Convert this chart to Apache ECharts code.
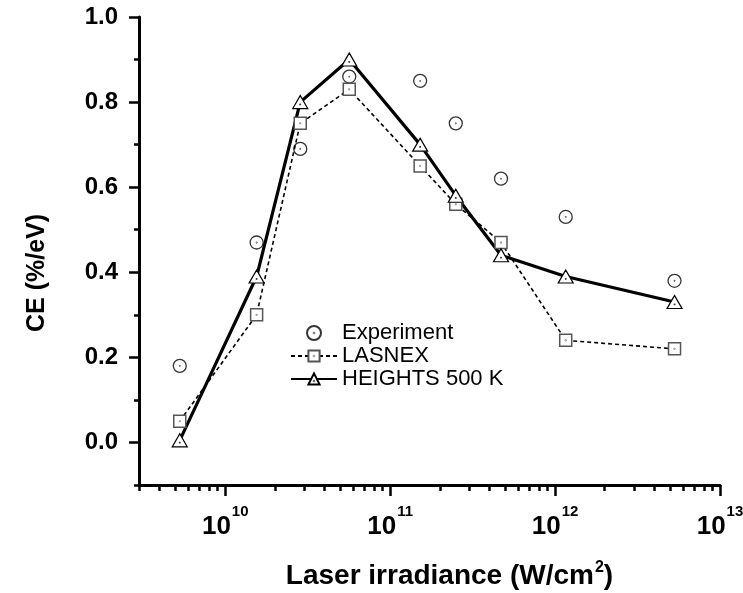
<!DOCTYPE html>
<html>
<head>
<meta charset="utf-8">
<script src="https://cdn.jsdelivr.net/npm/echarts@6/dist/echarts.min.js"></script>
<style>
  html, body { margin: 0; padding: 0; background: #fff; }
  #chart { width: 743px; height: 593px; }
</style>
</head>
<body>
<div id="chart"></div>
<script>
// Laser irradiance (W/cm^2) of each shot
const irradiance = [5.3e9, 1.55e10, 2.85e10, 5.65e10, 1.52e11, 2.5e11, 4.7e11, 1.16e12, 5.3e12];
// Conversion efficiency (%/eV)
const experiment = [0.18, 0.47, 0.69, 0.86, 0.85, 0.75, 0.62, 0.53, 0.38];
const lasnex     = [0.05, 0.30, 0.75, 0.83, 0.65, 0.56, 0.47, 0.24, 0.22];
const heights    = [0.005, 0.39, 0.80, 0.90, 0.70, 0.58, 0.44, 0.39, 0.33];

// Axis ticks
const xMajorTicks = [1e10, 1e11, 1e12, 1e13];
const xMinorTicks = [3e9, 4e9, 5e9, 6e9, 7e9, 8e9, 9e9,
                     2e10, 3e10, 4e10, 5e10, 6e10, 7e10, 8e10, 9e10,
                     2e11, 3e11, 4e11, 5e11, 6e11, 7e11, 8e11, 9e11,
                     2e12, 3e12, 4e12, 5e12, 6e12, 7e12, 8e12, 9e12];
const yMajorTicks = [0, 0.2, 0.4, 0.6, 0.8, 1.0];
const yMinorTicks = [-0.1, 0.1, 0.3, 0.5, 0.7, 0.9];

const FONT = 'Liberation Sans';
const X_MIN = 3e9, X_MAX = 1e13, Y_MIN = -0.1, Y_MAX = 1.0;

// Open markers with a small centre dot
const circleDot = 'path://M10,0A10,10 0 1,1 9.99,0Z M10,9.6A0.4,0.4 0 1,1 9.99,9.6Z';
const squareDot = 'path://M0,0H20V20H0Z M10,9.6A0.4,0.4 0 1,1 9.99,9.6Z';
const triangleDot = 'path://M10,0L20,17H0Z M10,11.1A0.4,0.4 0 1,1 9.99,11.1Z';

const pairs = (ys) => irradiance.map((x, i) => [x, ys[i]]);

const gridBox = { left: 139, right: 23, top: 17, bottom: 108, outerBoundsMode: 'none', containLabel: false };

const chart = echarts.init(document.getElementById('chart'), null, { renderer: 'canvas' });

chart.setOption({
  animation: false,
  backgroundColor: '#fff',
  grid: [
    Object.assign({}, gridBox),
    Object.assign({}, gridBox)
  ],
  legend: {
    orient: 'vertical',
    left: 290,
    top: 322,
    padding: 0,
    itemWidth: 46,
    itemHeight: 14,
    itemGap: 1,
    selectedMode: false,
    textStyle: { fontFamily: FONT, fontSize: 22, lineHeight: 22, color: '#000' },
    data: ['Experiment', 'LASNEX', 'HEIGHTS 500 K']
  },
  xAxis: [
    {
      type: 'log', gridIndex: 0, min: X_MIN, max: X_MAX, logBase: 10,
      name: '{t|Laser irradiance (W/cm}{s|2}{t|)}',
      nameLocation: 'middle', nameGap: 75,
      nameTextStyle: {
        padding: [0, 0, 0, 40],
        rich: {
          t: { fontFamily: FONT, fontWeight: 'bold', fontSize: 28, color: '#000', lineHeight: 32 },
          s: { fontFamily: FONT, fontWeight: 'bold', fontSize: 16, color: '#000', lineHeight: 18, padding: [0, 0, 16, 1] }
        }
      },
      axisLine: { show: true, onZero: false, lineStyle: { color: '#000', width: 3 } },
      axisTick: { show: true, inside: false, length: 11, lineStyle: { color: '#000', width: 2.5 }, customValues: xMajorTicks },
      axisLabel: {
        show: true, margin: 29, customValues: xMajorTicks,
        formatter: (v) => '{b|10}{s|' + Math.round(Math.log10(v)) + '}',
        rich: {
          b: { fontFamily: FONT, fontWeight: 'bold', fontSize: 26, color: '#000', lineHeight: 26 },
          s: { fontFamily: FONT, fontWeight: 'bold', fontSize: 15, color: '#000', lineHeight: 16, padding: [0, 0, 30, 1] }
        }
      },
      splitLine: { show: false }
    },
    {
      type: 'log', gridIndex: 1, min: X_MIN, max: X_MAX, logBase: 10,
      axisLine: { show: false, onZero: false },
      axisTick: { show: true, inside: false, length: 6, lineStyle: { color: '#000', width: 2.5 }, customValues: xMinorTicks },
      axisLabel: { show: false },
      splitLine: { show: false }
    }
  ],
  yAxis: [
    {
      type: 'value', gridIndex: 0, min: Y_MIN, max: Y_MAX, interval: 0.1,
      name: 'CE (%/eV)',
      nameLocation: 'middle', nameGap: 89, nameRotate: 90,
      nameTextStyle: { fontFamily: FONT, fontWeight: 'bold', fontSize: 25, color: '#000', padding: [0, 44, 0, 0] },
      axisLine: { show: true, onZero: false, lineStyle: { color: '#000', width: 3 } },
      axisTick: { show: true, inside: false, length: 10, lineStyle: { color: '#000', width: 2.5 }, customValues: yMajorTicks },
      axisLabel: {
        show: true, margin: 21, customValues: yMajorTicks,
        formatter: (v) => v.toFixed(1),
        fontFamily: FONT, fontWeight: 'bold', fontSize: 24, color: '#000'
      },
      splitLine: { show: false }
    },
    {
      type: 'value', gridIndex: 1, min: Y_MIN, max: Y_MAX, interval: 0.1,
      axisLine: { show: false, onZero: false },
      axisTick: { show: true, inside: false, length: 5, lineStyle: { color: '#000', width: 2.5 }, customValues: yMinorTicks },
      axisLabel: { show: false },
      splitLine: { show: false }
    }
  ],
  series: [
    {
      name: 'Experiment', type: 'scatter', xAxisIndex: 0, yAxisIndex: 0,
      data: pairs(experiment),
      symbol: circleDot, symbolSize: 13,
      itemStyle: { color: '#fff', borderColor: '#000', borderWidth: 1.3 },
      emphasis: { disabled: true }
    },
    {
      name: 'LASNEX', type: 'line', xAxisIndex: 0, yAxisIndex: 0,
      data: pairs(lasnex),
      symbol: squareDot, symbolSize: 12, showAllSymbol: true,
      lineStyle: { color: '#000', width: 1.6, type: [4, 3] },
      itemStyle: { color: '#fff', borderColor: '#555', borderWidth: 1.5 },
      emphasis: { disabled: true }
    },
    {
      name: 'HEIGHTS 500 K', type: 'line', xAxisIndex: 0, yAxisIndex: 0,
      data: pairs(heights),
      symbol: triangleDot, symbolSize: [15, 13], showAllSymbol: true,
      lineStyle: { color: '#000', width: 3.2 },
      itemStyle: { color: '#fff', borderColor: '#000', borderWidth: 1.2 },
      emphasis: { disabled: true }
    }
  ]
});
</script>
</body>
</html>
